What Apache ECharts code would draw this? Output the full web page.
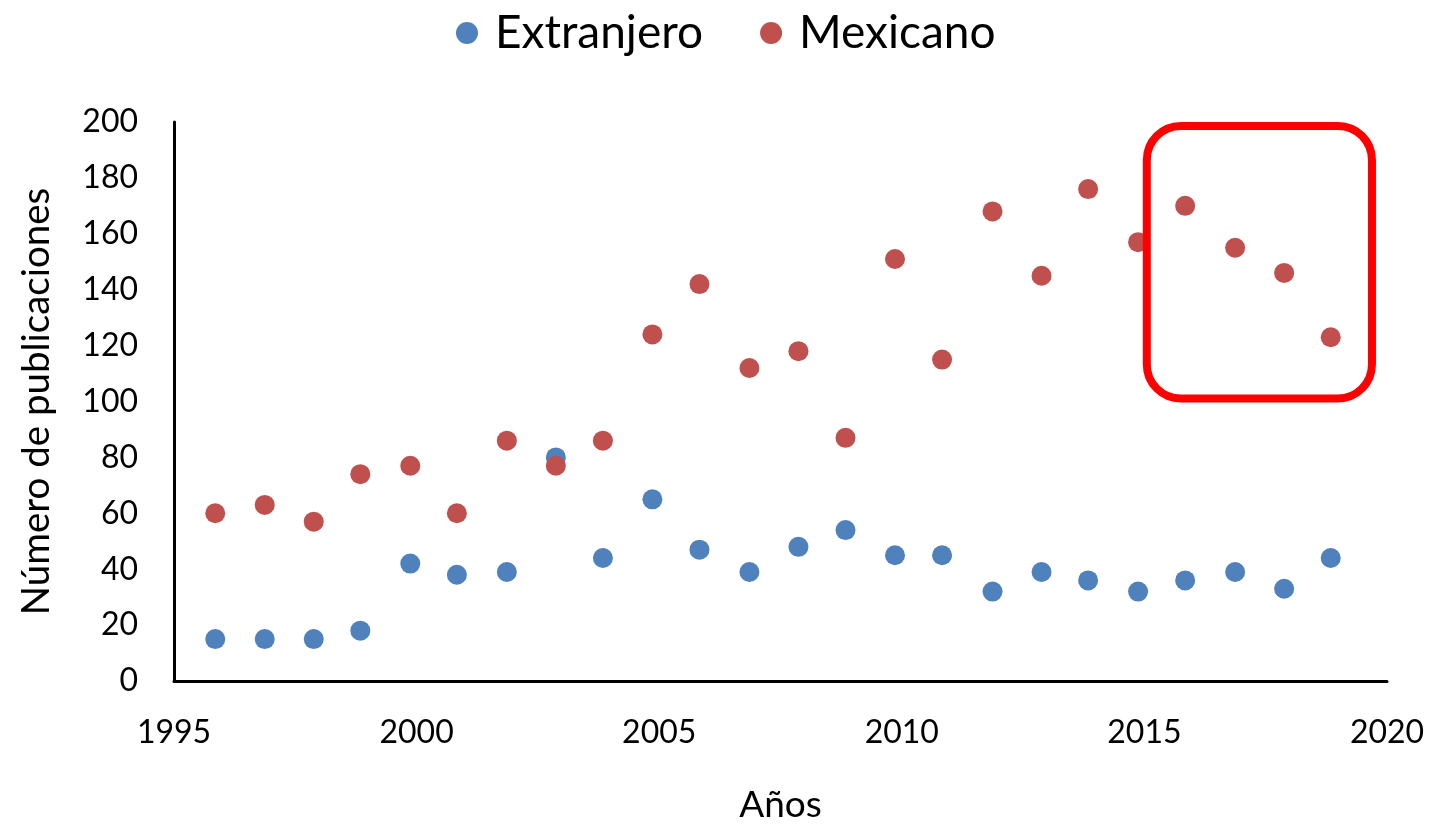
<!DOCTYPE html>
<html>
<head>
<meta charset="utf-8">
<script src="https://cdn.jsdelivr.net/npm/echarts@6/dist/echarts.min.js"></script>
<style>html,body{margin:0;padding:0;background:#fff;}#c{width:1436px;height:829px;}</style>
</head>
<body>
<div id="c"></div>
<script>
// x positions of the points (each year's mark sits slightly left of the integer year)
const years = [1995.85,1996.87,1997.88,1998.84,1999.87,2000.83,2001.86,2002.87,2003.84,2004.86,2005.83,2006.86,2007.87,2008.84,2009.86,2010.83,2011.87,2012.88,2013.84,2014.87,2015.84,2016.87,2017.88,2018.84];
const extranjero = [15,15,15,18,42,38,39,80,44,65,47,39,48,54,45,45,32,39,36,32,36,39,33,44];
const mexicano = [60,63,57,74,77,60,86,77,86,124,142,112,118,87,151,115,168,145,176,157,170,155,146,123];
const seriesNames = ['Extranjero','Mexicano'];
const highlightBox = {x0: 2015.05, x1: 2019.69, y0: 198.6, y1: 101.1};

const FONT = 'Lato, "Open Sans", sans-serif';
const chart = echarts.init(document.getElementById('c'));
const pairs = arr => years.map((y,i)=>[y, arr[i]]);
chart.setOption({
  animation:false,
  legend:{top:5,left:451,itemWidth:22,itemHeight:22,itemGap:57,icon:'circle',
    textStyle:{fontFamily:FONT,fontSize:46,color:'#000',padding:[0,0,0,12]}},
  grid:{left:174,right:49,top:122,bottom:147},
  xAxis:{type:'value',min:1995,max:2020,interval:5,
    name:'Años',nameLocation:'middle',nameGap:106,nameTextStyle:{fontFamily:FONT,fontSize:37,color:'#000'},
    axisLine:{lineStyle:{color:'#000',width:3}},axisTick:{show:false},splitLine:{show:false},
    axisLabel:{fontFamily:FONT,fontSize:32,color:'#000',margin:36,formatter:v=>String(v)}},
  yAxis:{type:'value',min:0,max:200,interval:20,
    name:'Número de publicaciones',nameLocation:'middle',nameGap:118,nameTextStyle:{fontFamily:FONT,fontSize:38.5,color:'#000'},
    axisLine:{show:true,lineStyle:{color:'#000',width:3}},axisTick:{show:false},splitLine:{show:false},
    axisLabel:{fontFamily:FONT,fontSize:32,color:'#000',margin:36}},
  series:[
    {name:seriesNames[0],type:'scatter',symbolSize:20,itemStyle:{color:'#4F81BD',opacity:1},data:pairs(extranjero)},
    {name:seriesNames[1],type:'scatter',symbolSize:20,itemStyle:{color:'#C0504D',opacity:1},data:pairs(mexicano)}
  ]
});
const p0 = chart.convertToPixel({gridIndex:0},[highlightBox.x0,highlightBox.y0]);
const p1 = chart.convertToPixel({gridIndex:0},[highlightBox.x1,highlightBox.y1]);
chart.setOption({graphic:[{type:'rect',shape:{x:p0[0],y:p0[1],width:p1[0]-p0[0],height:p1[1]-p0[1],r:34},
  style:{fill:'none',stroke:'#FF0000',lineWidth:8},z:10}]});
</script>
</body>
</html>
